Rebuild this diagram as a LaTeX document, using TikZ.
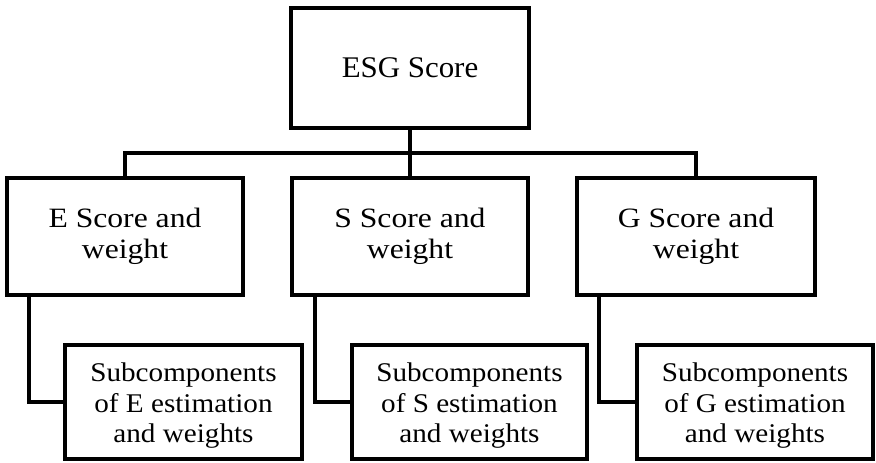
\documentclass[tikz,border=0pt]{standalone}
\usepackage{fontspec}
\setmainfont{Liberation Serif}
\newfontfamily\topfont[FakeStretch=1.03]{Liberation Serif}
\newfontfamily\rowfont[FakeStretch=1.13]{Liberation Serif}
\newfontfamily\subfont[FakeStretch=1.08]{Liberation Serif}
\begin{document}
\begin{tikzpicture}[x=1pt,y=-1pt,
  box/.style={draw=black, line width=4pt, fill=white, align=center, inner sep=0pt,
    font=\rowfont\fontsize{28}{31}\selectfont},
  subbox/.style={box, minimum height=114pt, font=\subfont\fontsize{27}{30.5}\selectfont},
  conn/.style={draw=black, line width=4pt}]
\useasboundingbox (0,0) rectangle (876,463);
\fill[white] (0,0) rectangle (876,463);
\node[box, minimum width=238pt, minimum height=120pt, font=\topfont\fontsize{30}{32}\selectfont] (top) at (410,68) {ESG Score};
\node[box, minimum width=236pt, minimum height=117pt] (E) at (125,236.5) {E Score and\\weight};
\node[box, minimum width=236pt, minimum height=117pt] (S) at (410,236.5) {S Score and\\weight};
\node[box, minimum width=238pt, minimum height=117pt] (G) at (696,236.5) {G Score and\\weight};
\node[subbox, minimum width=237pt] (Esub) at (183.5,402) {\rule{0pt}{26pt}Subcomponents\\of E estimation\\and weights};
\node[subbox, minimum width=235pt] (Ssub) at (469.5,402) {\rule{0pt}{26pt}Subcomponents\\of S estimation\\and weights};
\node[subbox, minimum width=236pt] (Gsub) at (755,402) {\rule{0pt}{26pt}Subcomponents\\of G estimation\\and weights};
\coordinate (bar) at (410,153);
\draw[conn] (top.south) -- (S.north);
\draw[conn] (E.north) |- (bar) -| (G.north);
\draw[conn] ([xshift=24pt]E.south west) |- (Esub.west);
\draw[conn] ([xshift=25pt]S.south west) |- (Ssub.west);
\draw[conn] ([xshift=24pt]G.south west) |- (Gsub.west);
\end{tikzpicture}
\end{document}
